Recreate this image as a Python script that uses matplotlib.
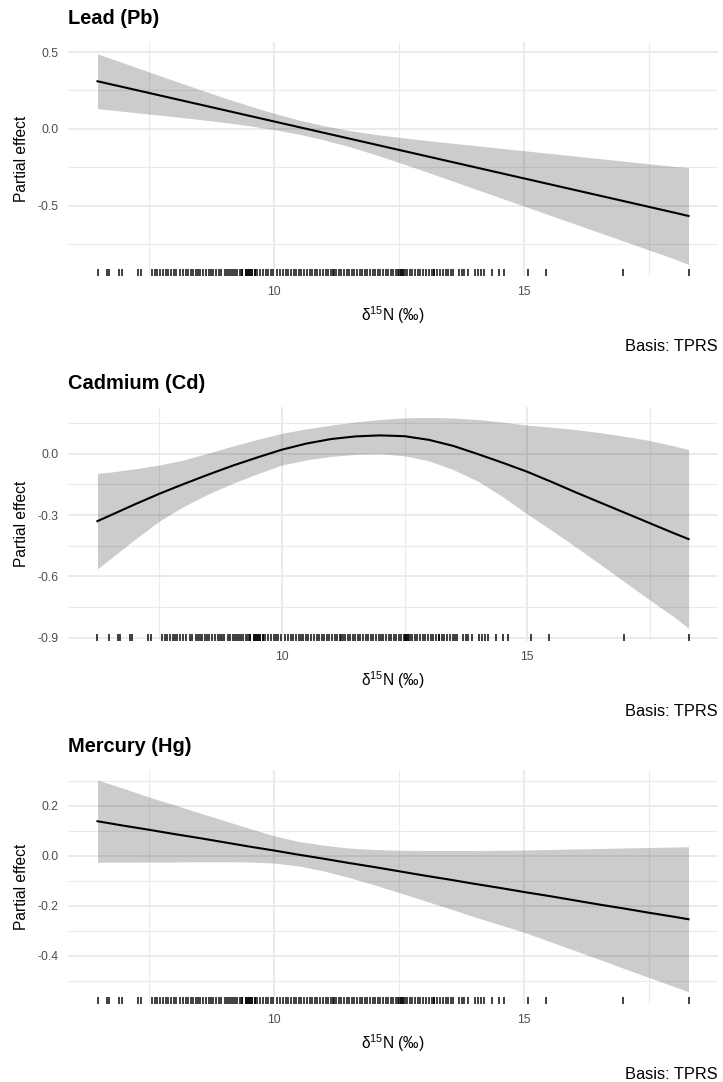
import matplotlib
matplotlib.use('Agg')

import matplotlib.pyplot as plt
from matplotlib.ticker import FixedLocator, FormatStrFormatter
import numpy as np

plt.rcParams['font.family'] = ['Liberation Sans', 'DejaVu Sans']
plt.rcParams['mathtext.fontset'] = 'custom'
plt.rcParams['mathtext.rm'] = 'Liberation Sans'
plt.rcParams['axes.unicode_minus'] = False

# --- data ---
titles = ['Lead (Pb)', 'Cadmium (Cd)', 'Mercury (Hg)']

x_lin = [6.47, 7.0, 7.5, 8.0, 8.5, 9.0, 9.5, 10.0, 10.5, 11.0, 11.5, 12.0, 12.5,
         13.0, 13.5, 14.0, 14.5, 15.0, 15.5, 16.0, 16.5, 17.0, 17.5, 18.0, 18.29]
x_cd = [6.24, 6.5, 7.0, 7.5, 8.0, 8.5, 9.0, 9.5, 10.0, 10.5, 11.0, 11.5, 12.0, 12.5,
        13.0, 13.5, 14.0, 14.5, 15.0, 15.5, 16.0, 16.5, 17.0, 17.5, 18.0, 18.29]

pb_fit = [0.31, 0.271, 0.234, 0.197, 0.16, 0.123, 0.086, 0.049, 0.012, -0.025,
          -0.062, -0.099, -0.136, -0.173, -0.21, -0.247, -0.284, -0.321, -0.358,
          -0.395, -0.432, -0.469, -0.506, -0.543, -0.565]
pb_se = [0.178, 0.157, 0.137, 0.117, 0.098, 0.08, 0.065, 0.053, 0.046, 0.046,
         0.052, 0.065, 0.082, 0.10, 0.12, 0.14, 0.16, 0.18, 0.20, 0.22, 0.24,
         0.26, 0.28, 0.30, 0.315]

cd_fit = [-0.33, -0.302, -0.248, -0.196, -0.148, -0.102, -0.058, -0.018, 0.02, 0.05,
          0.072, 0.085, 0.09, 0.086, 0.068, 0.038, -0.002, -0.044, -0.088, -0.138,
          -0.19, -0.24, -0.29, -0.34, -0.39, -0.418]
cd_hi = [-0.096, -0.09, -0.074, -0.055, -0.03, 0.003, 0.038, 0.07, 0.1, 0.122,
         0.14, 0.156, 0.168, 0.176, 0.178, 0.175, 0.168, 0.155, 0.14, 0.13,
         0.118, 0.103, 0.085, 0.065, 0.038, 0.021]
cd_lo = [-0.564, -0.515, -0.42, -0.33, -0.258, -0.197, -0.145, -0.098, -0.055, -0.03,
         -0.013, -0.003, 0.0, -0.01, -0.035, -0.078, -0.135, -0.21, -0.295, -0.375,
         -0.458, -0.543, -0.63, -0.716, -0.80, -0.855]

hg_fit = [0.139, 0.121, 0.105, 0.088, 0.072, 0.055, 0.038, 0.022, 0.005, -0.011,
          -0.028, -0.044, -0.061, -0.078, -0.094, -0.111, -0.127, -0.144, -0.16,
          -0.177, -0.194, -0.21, -0.227, -0.243, -0.253]
hg_hi = [0.304, 0.27, 0.236, 0.205, 0.173, 0.142, 0.111, 0.081, 0.058, 0.043,
         0.032, 0.026, 0.023, 0.022, 0.022, 0.022, 0.023, 0.024, 0.026, 0.028,
         0.03, 0.032, 0.034, 0.036, 0.037]
hg_lo = [-0.025, -0.025, -0.024, -0.024, -0.023, -0.023, -0.024, -0.028, -0.04, -0.06,
         -0.086, -0.115, -0.146, -0.178, -0.21, -0.243, -0.274, -0.305, -0.341,
         -0.377, -0.413, -0.45, -0.486, -0.522, -0.543]

# observed d15N values (rug)
rug = [6.48, 6.65, 6.69, 6.90, 6.95, 7.28, 7.33,
       7.56, 7.61, 7.66, 7.72, 7.78, 7.83, 7.87, 7.93, 7.99, 8.04, 8.12, 8.17,
       8.24, 8.29, 8.33, 8.38, 8.43, 8.47, 8.52, 8.57, 8.64, 8.69, 8.74, 8.78,
       8.83, 8.90, 8.95, 9.01, 9.05, 9.09, 9.13, 9.17, 9.21, 9.26, 9.31, 9.36,
       9.36, 9.43, 9.43, 9.47, 9.47, 9.51, 9.51, 9.56, 9.56, 9.61, 9.61, 9.66,
       9.72, 9.78, 9.83, 9.88, 9.93, 9.98, 10.06, 10.12, 10.18, 10.23, 10.28,
       10.34, 10.39, 10.44, 10.49, 10.54, 10.60, 10.65, 10.71, 10.76, 10.82,
       10.86, 10.91, 10.97, 11.03, 11.08, 11.13, 11.18, 11.20, 11.24, 11.29,
       11.34, 11.39, 11.45, 11.50, 11.55, 11.60, 11.66, 11.71, 11.76, 11.81,
       11.86, 11.92, 11.97, 12.02, 12.07, 12.12, 12.18, 12.23, 12.28, 12.33,
       12.38, 12.43, 12.48, 12.50, 12.53, 12.53, 12.57, 12.57, 12.62, 12.66,
       12.71, 12.76, 12.81, 12.87, 12.92, 12.98, 13.04, 13.09, 13.15, 13.20,
       13.20, 13.26, 13.31, 13.37, 13.43, 13.48, 13.53, 13.57,
       13.69, 13.75, 13.80, 13.88, 14.02, 14.08, 14.14, 14.20, 14.36, 14.50,
       14.60, 15.08, 15.44, 16.97, 18.29]
rug_cd_extra = [6.24]

pb_hi = [f + s for f, s in zip(pb_fit, pb_se)]
pb_lo = [f - s for f, s in zip(pb_fit, pb_se)]

panels = [
    (titles[0], x_lin, pb_fit, pb_lo, pb_hi, rug, (-0.955, 0.565),
     [-0.5, 0.0, 0.5], [-0.75, -0.25, 0.25], (5.88, 18.88)),
    (titles[1], x_cd, cd_fit, cd_lo, cd_hi, rug + rug_cd_extra, (-0.917, 0.229),
     [-0.9, -0.6, -0.3, 0.0], [-0.75, -0.45, -0.15, 0.15], (5.64, 18.89)),
    (titles[2], x_lin, hg_fit, hg_lo, hg_hi, rug, (-0.592, 0.344),
     [-0.4, -0.2, 0.0, 0.2], [-0.5, -0.3, -0.1, 0.1, 0.3], (5.88, 18.88)),
]

W, H = 723, 1082
fig = plt.figure(figsize=(W / 100, H / 100), dpi=100)

tops = [42, 407, 770]
ph = 234
left, right = 68, 718

for (title, xs, fit, lo, hi, r, ylim, yt, ymt, xlim), top in zip(panels, tops):
    ax = fig.add_axes([left / W, 1 - (top + ph) / H, (right - left) / W, ph / H])
    ax.set_xlim(*xlim)
    ax.set_ylim(*ylim)
    for s in ax.spines.values():
        s.set_visible(False)

    ax.xaxis.set_major_locator(FixedLocator([10, 15]))
    ax.xaxis.set_minor_locator(FixedLocator([7.5, 12.5, 17.5]))
    ax.yaxis.set_major_locator(FixedLocator(yt))
    ax.yaxis.set_minor_locator(FixedLocator(ymt))
    ax.xaxis.set_major_formatter(FormatStrFormatter('%d'))
    ax.yaxis.set_major_formatter(FormatStrFormatter('%.1f'))
    ax.tick_params(which='both', length=0)
    ax.tick_params(axis='y', pad=7, labelsize=8.8, labelcolor='#4D4D4D')
    ax.tick_params(axis='x', pad=7, labelsize=8.8, labelcolor='#4D4D4D')
    ax.grid(which='major', color='#EBEBEB', lw=1.4)
    ax.grid(which='minor', color='#EBEBEB', lw=0.8)
    ax.set_axisbelow(True)

    ax.fill_between(xs, lo, hi, color='black', alpha=0.2, lw=0)
    ax.plot(xs, fit, color='black', lw=1.5)
    ax.vlines(r, 0, 0.03, transform=ax.get_xaxis_transform(),
              color='black', alpha=0.75, lw=1.4)

    ax.set_title(title, loc='left', fontsize=14.4, fontweight='bold', pad=13)
    ax.set_ylabel('Partial effect', fontsize=11.2, labelpad=6)
    ax.set_xlabel('\u03b4$^{15}$N (\u2030)', fontsize=11.2, labelpad=5)
    ax.text(1.0, -0.3, 'Basis: TPRS', transform=ax.transAxes,
            ha='right', va='center', fontsize=11.8)

fig.savefig('out.png', dpi=100, facecolor='white')
